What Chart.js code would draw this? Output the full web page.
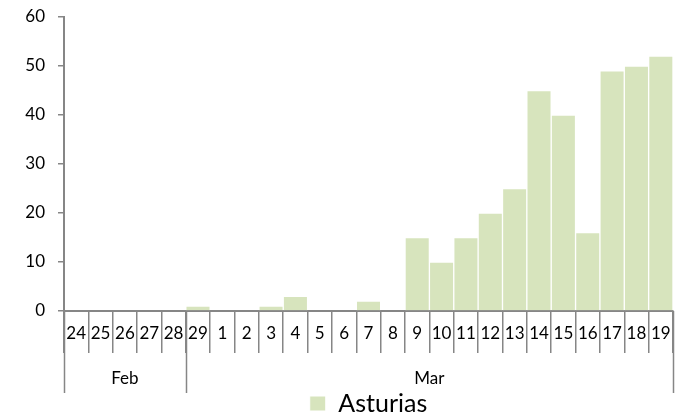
<!DOCTYPE html>
<html>
<head>
<meta charset="utf-8">
<script src="https://cdn.jsdelivr.net/npm/chart.js@4/dist/chart.umd.min.js"></script>
<style>
  html, body { margin: 0; padding: 0; background: #fff; }
  #wrap { width: 687px; height: 416px; }
</style>
</head>
<body>
<div id="wrap"><canvas id="chart" width="687" height="416"></canvas></div>
<script>
// day labels along the bottom
const days = ['24', '25', '26', '27', '28', '29', '1', '2', '3', '4', '5', '6', '7', '8',
  '9', '10', '11', '12', '13', '14', '15', '16', '17', '18', '19'];
// month groups under the days (name + how many days it spans)
const months = ['Feb', 'Mar'];
const monthSpans = [5, 20];
// cases per day
const asturias = [0, 0, 0, 0, 0, 1, 0, 0, 1, 3, 0, 0, 2, 0,
  15, 10, 15, 20, 25, 45, 40, 16, 49, 50, 52];

const axisColor = '#868686';
const fontFamily = 'Lato, "Open Sans", sans-serif';

// draws the month row and the long separators under the day labels
const groupAxis = {
  id: 'groupAxis',
  afterDraw(chart) {
    const ctx = chart.ctx;
    const x = chart.scales.x;
    const top = chart.chartArea.bottom;
    const half = (x.getPixelForValue(1) - x.getPixelForValue(0)) / 2;
    ctx.save();
    ctx.strokeStyle = axisColor;
    ctx.lineWidth = 1.5;
    ctx.fillStyle = '#000';
    ctx.font = '17px ' + fontFamily;
    ctx.textAlign = 'center';
    ctx.textBaseline = 'middle';
    let start = 0;
    const edges = [x.getPixelForValue(0) - half];
    months.forEach((m, i) => {
      const end = start + monthSpans[i] - 1;
      const left = x.getPixelForValue(start) - half;
      const right = x.getPixelForValue(end) + half;
      edges.push(right);
      ctx.fillText(m, (left + right) / 2, top + 68);
      start = end + 1;
    });
    edges.forEach(px => {
      ctx.beginPath();
      ctx.moveTo(Math.round(px) + 0.5, top);
      ctx.lineTo(Math.round(px) + 0.5, top + 82);
      ctx.stroke();
    });
    ctx.restore();
  }
};

new Chart(document.getElementById('chart'), {
  type: 'bar',
  data: {
    labels: days,
    datasets: [{
      label: 'Asturias',
      data: asturias,
      backgroundColor: '#d7e4bd',
      borderColor: '#ffffff',
      borderWidth: 1,
      barPercentage: 1,
      categoryPercentage: 1
    }]
  },
  options: {
    responsive: false,
    animation: false,
    layout: { padding: { top: 0, right: 14, left: 0, bottom: -10 } },
    scales: {
      y: {
        min: 0,
        max: 60,
        ticks: { stepSize: 10, color: '#000', padding: 13, font: { family: fontFamily, size: 17 } },
        grid: { drawOnChartArea: false, drawTicks: true, tickLength: 6, color: axisColor, lineWidth: 1.5 },
        border: { color: axisColor, width: 2 },
        afterFit(scale) {
          scale.width = 64;
          scale.paddingTop = 17;
          scale.paddingBottom = 0;
        }
      },
      x: {
        offset: true,
        ticks: { color: '#000', autoSkip: false, maxRotation: 0, padding: -30, font: { family: fontFamily, size: 17 } },
        grid: { offset: true, drawOnChartArea: false, drawTicks: true, tickLength: 42, color: axisColor, lineWidth: 1.5 },
        border: { color: axisColor, width: 2 },
        afterFit(scale) { scale.height = 80; }
      }
    },
    plugins: {
      legend: {
        position: 'bottom',
        fullSize: false,
        labels: {
          color: '#000',
          boxWidth: 16,
          boxHeight: 15,
          padding: 0,
          font: { family: fontFamily, size: 25, lineHeight: 1 }
        }
      },
      tooltip: { enabled: false }
    }
  },
  plugins: [groupAxis]
});
</script>
</body>
</html>
